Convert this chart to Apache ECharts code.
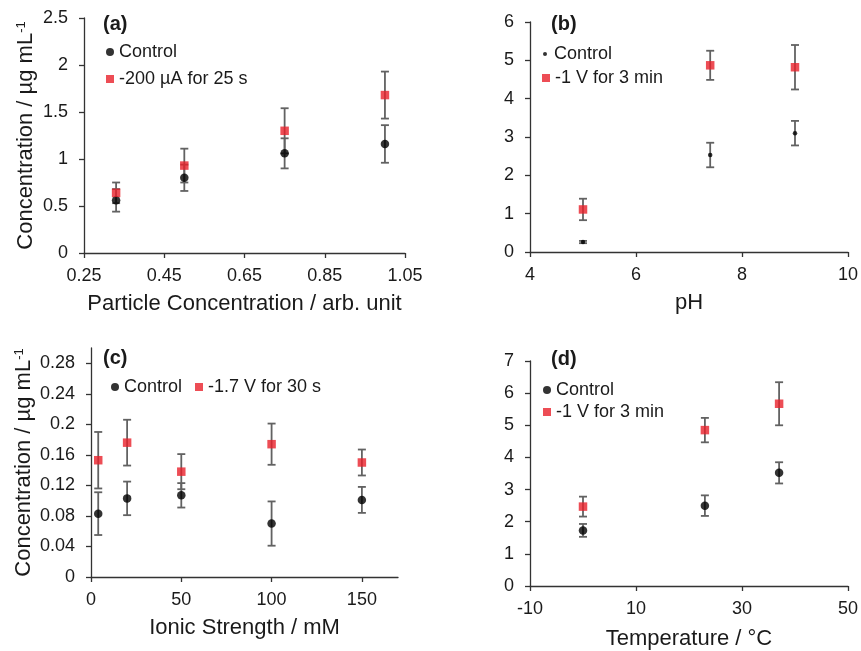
<!DOCTYPE html>
<html>
<head>
<meta charset="utf-8">
<script src="https://cdn.jsdelivr.net/npm/echarts@6/dist/echarts.min.js"></script>
<style>
html,body{margin:0;padding:0;background:#fff;}
#c{width:861px;height:651px;}
</style>
</head>
<body>
<div id="c"></div>
<script>
// ---------- data ----------
// (a) particle concentration
const aX = [0.33, 0.5, 0.75, 1.0];
const aControl = [0.56, 0.80, 1.06, 1.16];
const aControlErr = [0.12, 0.14, 0.16, 0.20];
const aTreated = [0.64, 0.93, 1.30, 1.68];
const aTreatedErr = [0.11, 0.18, 0.24, 0.25];
const aXTicks = [0.25, 0.45, 0.65, 0.85, 1.05];

// (b) pH
const bX = [5, 7.4, 9];
const bControl = [0.26, 2.53, 3.10];
const bControlErr = [0.03, 0.32, 0.32];
const bTreated = [1.11, 4.87, 4.82];
const bTreatedErr = [0.28, 0.38, 0.58];

// (c) ionic strength
const cX = [4, 20, 50, 100, 150];
const cControl = [0.083, 0.103, 0.107, 0.070, 0.101];
const cControlErr = [0.028, 0.022, 0.016, 0.029, 0.017];
const cTreated = [0.153, 0.176, 0.138, 0.174, 0.150];
const cTreatedErr = [0.037, 0.030, 0.023, 0.027, 0.017];
const cXTicks = [0, 50, 100, 150];
const cYTicks = [0, 0.04, 0.08, 0.12, 0.16, 0.2, 0.24, 0.28];

// (d) temperature
const dX = [0, 23, 37];
const dControl = [1.73, 2.50, 3.52];
const dControlErr = [0.20, 0.32, 0.33];
const dTreated = [2.47, 4.85, 5.67];
const dTreatedErr = [0.31, 0.38, 0.67];
const dXTicks = [-10, 10, 30, 50];

const panelLabels = ['(a)', '(b)', '(c)', '(d)'];
const seriesNames = {
  control: 'Control',
  a: '-200 µA for 25 s',
  b: '-1 V for 3 min',
  c: '-1.7 V for 30 s',
  d: '-1 V for 3 min'
};
const concName = 'Concentration / µg mL{sup|-1}';

// ---------- style ----------
const FONT = 'Liberation Sans, Arial, sans-serif';
const TXT = '#1a1a1a';
const AX = '#333333';
const RED = '#e8202a';
const ERR = '#626262';

function pairs(x, y) { return x.map((v, i) => [v, y[i]]); }
function errData(x, y, e) { return x.map((v, i) => [v, y[i] - e[i], y[i] + e[i]]); }

function errRender(params, api) {
  const x = api.value(0), lo = api.value(1), hi = api.value(2);
  const p1 = api.coord([x, hi]);
  const p2 = api.coord([x, lo]);
  const w = 4;
  const style = { stroke: ERR, lineWidth: 1.8 };
  return {
    type: 'group',
    children: [
      { type: 'line', shape: { x1: p1[0], y1: p1[1], x2: p2[0], y2: p2[1] }, style: style },
      { type: 'line', shape: { x1: p1[0] - w, y1: p1[1], x2: p1[0] + w, y2: p1[1] }, style: style },
      { type: 'line', shape: { x1: p2[0] - w, y1: p2[1], x2: p2[0] + w, y2: p2[1] }, style: style }
    ]
  };
}

function axisBase() {
  return {
    axisLine: { show: true, onZero: false, lineStyle: { color: AX, width: 1.3 } },
    axisTick: { show: true, inside: false, length: 5, lineStyle: { color: AX, width: 1.3 } },
    axisLabel: { color: TXT, fontSize: 18, fontFamily: FONT, margin: 14 },
    splitLine: { show: false },
    nameTextStyle: { color: TXT, fontSize: 22, fontFamily: FONT,
      rich: { sup: { fontSize: 13, fontFamily: FONT, color: TXT, verticalAlign: 'top', padding: [0, 0, 9, 0] } } }
  };
}
function xAx(gi, min, max, opts) {
  const b = axisBase();
  return Object.assign(b, { type: 'value', gridIndex: gi, min: min, max: max,
    nameLocation: 'middle', nameGap: 40 }, opts || {});
}
function yAx(gi, min, max, opts) {
  const b = axisBase();
  b.axisLabel.margin = 16;
  return Object.assign(b, { type: 'value', gridIndex: gi, min: min, max: max,
    nameLocation: 'middle', nameGap: 48 }, opts || {});
}

const xAxes = [
  (function () { const a = xAx(0, 0.25, 1.05, { name: 'Particle Concentration / arb. unit' });
    a.axisTick.customValues = aXTicks; a.axisLabel.customValues = aXTicks; return a; })(),
  xAx(1, 4, 10, { interval: 2, name: 'pH' }),
  (function () { const a = xAx(2, 0, 170, { name: 'Ionic Strength / mM' });
    a.axisTick.customValues = cXTicks; a.axisLabel.customValues = cXTicks; return a; })(),
  (function () { const a = xAx(3, -10, 50, { name: 'Temperature / °C', nameGap: 42 });
    a.axisTick.customValues = dXTicks; a.axisLabel.customValues = dXTicks; return a; })()
];
const yAxes = [
  yAx(0, 0, 2.5, { interval: 0.5, name: concName, nameGap: 47 }),
  yAx(1, 0, 6, { interval: 1 }),
  (function () { const a = yAx(2, 0, 0.30, { name: concName, nameGap: 56 });
    a.axisTick.customValues = cYTicks; a.axisLabel.customValues = cYTicks; return a; })(),
  yAx(3, 0, 7, { interval: 1 })
];

const grids = [
  { left: 84, top: 18, width: 321, height: 235 },
  { left: 530, top: 22, width: 321, height: 230 },
  { left: 91, top: 348, width: 307, height: 229 },
  { left: 530, top: 361, width: 321, height: 229 }
];

function panelSeries(gi, x, ctl, ctlErr, trt, trtErr, trtName, ctlSize) {
  return [
    { type: 'custom', name: 'err' + gi + 'c', xAxisIndex: gi, yAxisIndex: gi, renderItem: errRender,
      data: errData(x, ctl, ctlErr), encode: { x: 0, y: [1, 2] }, z: 2, silent: true },
    { type: 'custom', name: 'err' + gi + 't', xAxisIndex: gi, yAxisIndex: gi, renderItem: errRender,
      data: errData(x, trt, trtErr), encode: { x: 0, y: [1, 2] }, z: 2, silent: true },
    { type: 'scatter', name: 'Control', xAxisIndex: gi, yAxisIndex: gi, symbol: 'circle',
      symbolSize: ctlSize, itemStyle: { color: '#000' }, data: pairs(x, ctl), z: 3 },
    { type: 'scatter', name: trtName, xAxisIndex: gi, yAxisIndex: gi, symbol: 'rect',
      symbolSize: 8.5, itemStyle: { color: RED }, data: pairs(x, trt), z: 4 }
  ];
}

const series = [].concat(
  panelSeries(0, aX, aControl, aControlErr, aTreated, aTreatedErr, seriesNames.a, 8.5),
  panelSeries(1, bX, bControl, bControlErr, bTreated, bTreatedErr, seriesNames.b, 4.5),
  panelSeries(2, cX, cControl, cControlErr, cTreated, cTreatedErr, seriesNames.c, 8.5),
  panelSeries(3, dX, dControl, dControlErr, dTreated, dTreatedErr, seriesNames.d, 8.5)
);

function leg(left, top, name, icon, color, w, h) {
  return { left: left, top: top, padding: 0, itemWidth: w, itemHeight: h, selectedMode: false,
    textStyle: { color: TXT, fontSize: 18, fontFamily: FONT },
    data: [{ name: name, icon: icon, itemStyle: { color: color } }] };
}
const legends = [
  leg(106, 43, seriesNames.control, 'circle', '#000', 8, 8),
  leg(106, 70, seriesNames.a, 'rect', RED, 8, 8),
  leg(543, 45, seriesNames.control, 'circle', '#000', 8, 4),
  leg(542, 69, seriesNames.b, 'rect', RED, 8, 8),
  leg(111, 378, seriesNames.control, 'circle', '#000', 8, 8),
  leg(195, 378, seriesNames.c, 'rect', RED, 8, 8),
  leg(543, 381, seriesNames.control, 'circle', '#000', 8, 8),
  leg(543, 403, seriesNames.d, 'rect', RED, 8, 8)
];

const titlePos = [[103, 14], [551, 14], [103, 348], [551, 349]];
const titles = panelLabels.map((t, i) => ({
  text: t, left: titlePos[i][0], top: titlePos[i][1], padding: 0,
  textStyle: { fontSize: 20, fontWeight: 'bold', color: TXT, fontFamily: FONT }
}));

const chart = echarts.init(document.getElementById('c'), null, { renderer: 'canvas' });
chart.setOption({
  backgroundColor: '#ffffff',
  animation: false,
  title: titles,
  legend: legends,
  grid: grids,
  xAxis: xAxes,
  yAxis: yAxes,
  series: series
});
</script>
</body>
</html>
